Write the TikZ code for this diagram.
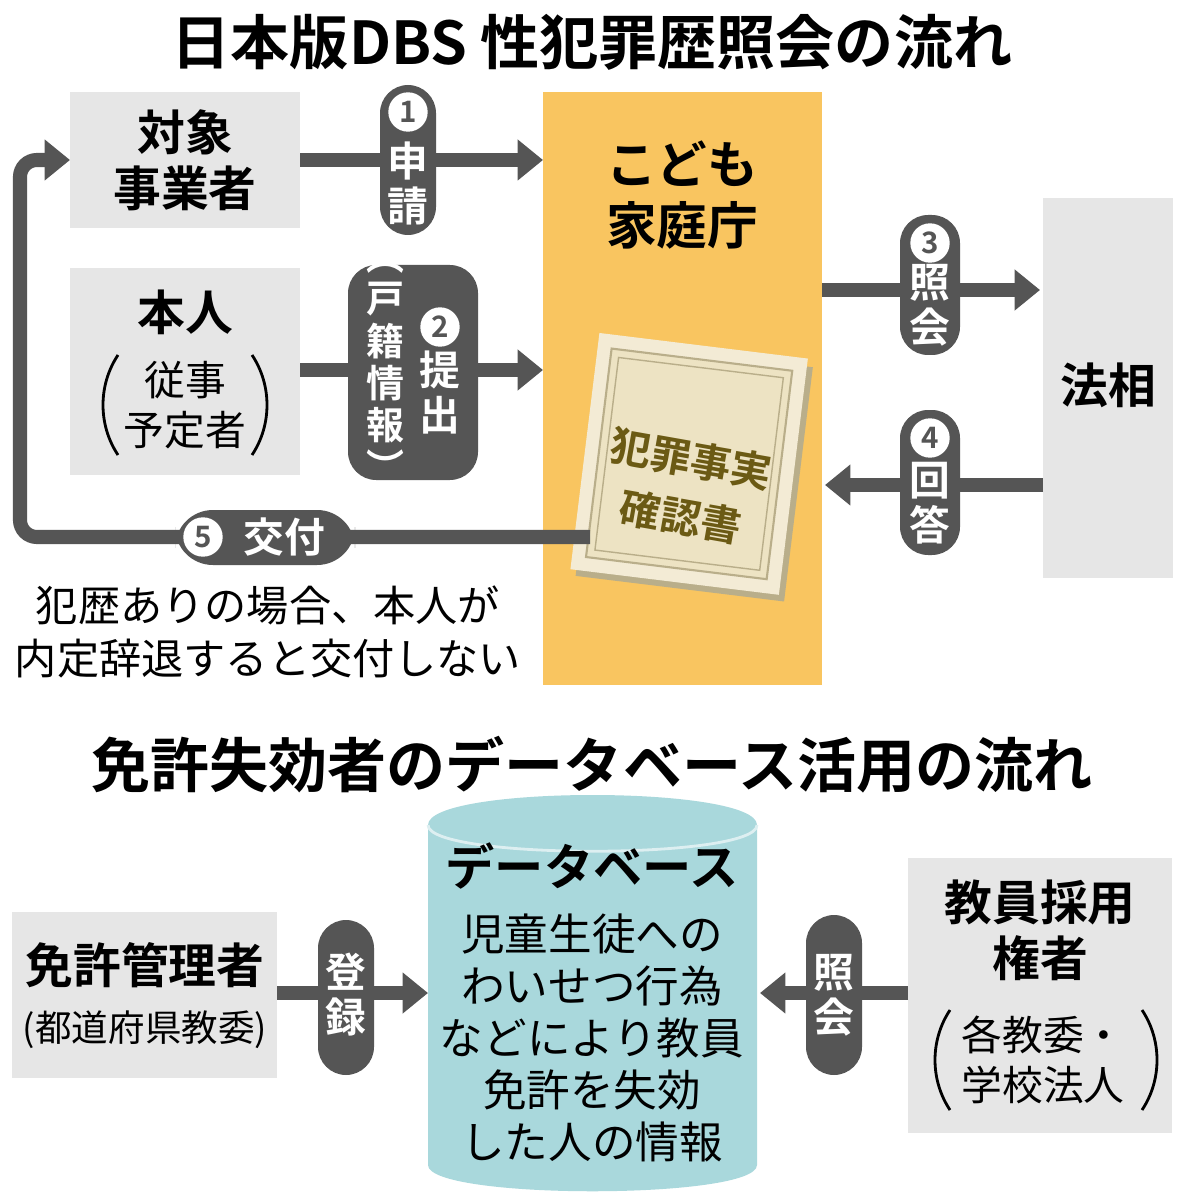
\documentclass[tikz,border=0pt]{standalone}
\usepackage{fontspec}
\setmainfont{Noto Sans CJK JP}[BoldFont={Noto Sans CJK JP Bold}]
\usetikzlibrary{arrows.meta,calc}
\definecolor{dk}{HTML}{555555}
\definecolor{bx}{HTML}{E6E6E6}
\definecolor{org}{HTML}{F9C560}
\definecolor{cyan1}{HTML}{A9D8DC}
\definecolor{paper}{HTML}{EDE3C3}
\definecolor{paperd}{HTML}{B9AE8A}
\definecolor{olive}{HTML}{6B5A14}
\begin{document}
\begin{tikzpicture}[x=0.025cm,y=-0.025cm,
  box/.style={fill=bx,draw=none,align=center,font=\bfseries\fontsize{34}{40}\selectfont},
  arr/.style={draw=dk,line width=10pt,-{Triangle[length=18pt,width=28pt]}},
  pill/.style={fill=dk,rounded corners=20pt},
  ptxt/.style={text=white,font=\bfseries\fontsize{29}{32}\selectfont,align=center,inner sep=0},
  num/.style={circle,fill=white,text=dk,inner sep=0,minimum size=28pt,font=\bfseries\fontsize{21}{21}\selectfont},
  ttl/.style={font=\bfseries\fontsize{42}{48}\selectfont},
  par/.style={line width=2pt}]
\useasboundingbox (0,0) rectangle (1184,1200);
\fill[white] (0,0) rectangle (1184,1200);
% titles
\node[ttl] (t1) at (592,42) {日本版DBS\ 性犯罪歴照会の流れ};
\node[ttl] (t2) at (592,765) {免許失効者のデータベース活用の流れ};
% boxes
\fill[org] (543,92) rectangle (822,685);
\node[font=\bfseries\fontsize{36}{44}\selectfont,align=center] (kodomo) at (682,195) {こども\\家庭庁};
\coordinate (kw) at (543,300);
\fill[bx] (70,92) rectangle (300,228);
\node[box] (taisho) at (185,160) {対象\\事業者};
\coordinate (tE) at (300,160); \coordinate (tW) at (70,160);
\fill[bx] (70,268) rectangle (300,475);
\node[box] (honnin) at (185,312) {本人};
\node[font=\fontsize{29}{36}\selectfont,align=center] (hsub) at (185,405) {従事\\予定者};
\draw[par] (118,355) .. controls (98,385) and (98,425) .. (118,455);
\draw[par] (252,355) .. controls (272,385) and (272,425) .. (252,455);
\coordinate (hE) at (300,370);
\fill[bx] (1043,198) rectangle (1173,578);
\node[box,fill=none] (hoso) at (1108,385) {法相};
% arrows
\draw[arr] (tE) -- (tE -| kw);
\draw[arr] (hE) -- (hE -| kw);
\draw[arr] (822,290) -- (1040,290);
\draw[arr] (1043,485) -- (825,485);
% pills
\fill[pill] (380,85) rectangle (436,235);
\node[num] at (408,112) {1};
\node[ptxt] at (408,183) {申\\請};
\fill[pill] (348,265) rectangle (478,480);
\node[num] at (440,327) {2};
\node[ptxt] at (440,393) {提\\出};
\node[ptxt,font=\bfseries\fontsize{27}{30}\selectfont] at (385,372) {︵\\戸\\籍\\情\\報\\︶};
\fill[pill] (900,215) rectangle (960,355);
\node[num] at (930,243) {3};
\node[ptxt] at (930,305) {照\\会};
\fill[pill] (900,410) rectangle (960,555);
\node[num] at (930,438) {4};
\node[ptxt] at (930,503) {回\\答};
% certificate
\begin{scope}[shift={(690,465)},rotate=-7]
\fill[paperd] (-100,-112) rectangle (110,124);
\fill[paper!70!white] (-106,-120) rectangle (104,118);
\draw[paperd,line width=1.5pt,fill=paper] (-92,-106) rectangle (90,104);
\draw[paperd,line width=1pt] (-84,-98) rectangle (82,96);
\end{scope}
\node[rotate=-10,font=\bfseries\fontsize{29}{42}\selectfont,text=olive,align=center] (cert) at (686,488) {犯罪事実\\確認書};
% arrow 5
\coordinate (c5) at (590,537);
\draw[draw=dk,line width=10pt,rounded corners=12pt,-{Triangle[length=18pt,width=28pt]}] (c5) -- (20,537) -- (20,160) -- (tW);
\fill[pill,rounded corners=27pt] (175,510) rectangle (355,565);
\node[num] at (203,537) {5};
\node[ptxt] at (284,537) {交付};
\node[font=\fontsize{30}{38}\selectfont,align=center] (note) at (268,632) {犯歴ありの場合、本人が\\内定辞退すると交付しない};
% bottom
\fill[bx] (12,912) rectangle (277,1078);
\node[box,fill=none] (menkyo) at (145,965) {免許管理者};
\node[font=\fontsize{26}{30}\selectfont] at (145,1030) {(都道府県教委)};
\fill[cyan1] (428,825) -- (428,1165) .. controls (428,1200) and (757,1200) .. (757,1165) -- (757,825) .. controls (757,785) and (428,785) .. (428,825);
\draw[white!60!cyan1,line width=2pt] (428,825) .. controls (428,860) and (757,860) .. (757,825);
\node[font=\bfseries\fontsize{35}{40}\selectfont] (db) at (592,866) {データベース};
\node[font=\fontsize{31}{37}\selectfont,align=center] (dbt) at (592,1038) {児童生徒への\\わいせつ行為\\などにより教員\\免許を失効\\した人の情報};
\fill[bx] (908,858) rectangle (1172,1133);
\node[box,fill=none] (kyoin) at (1040,930) {教員採用\\権者};
\node[font=\fontsize{29}{36}\selectfont,align=center] at (1043,1060) {各教委・\\学校法人};
\draw[par] (950,1010) .. controls (930,1040) and (930,1080) .. (950,1110);
\draw[par] (1142,1010) .. controls (1162,1040) and (1162,1080) .. (1142,1110);
\draw[arr] (277,993) -- (428,993);
\draw[arr] (908,993) -- (760,993);
\fill[pill] (318,920) rectangle (374,1075);
\node[ptxt] at (346,995) {登\\録};
\fill[pill] (806,915) rectangle (862,1075);
\node[ptxt] at (834,995) {照\\会};
\end{tikzpicture}
\end{document}
